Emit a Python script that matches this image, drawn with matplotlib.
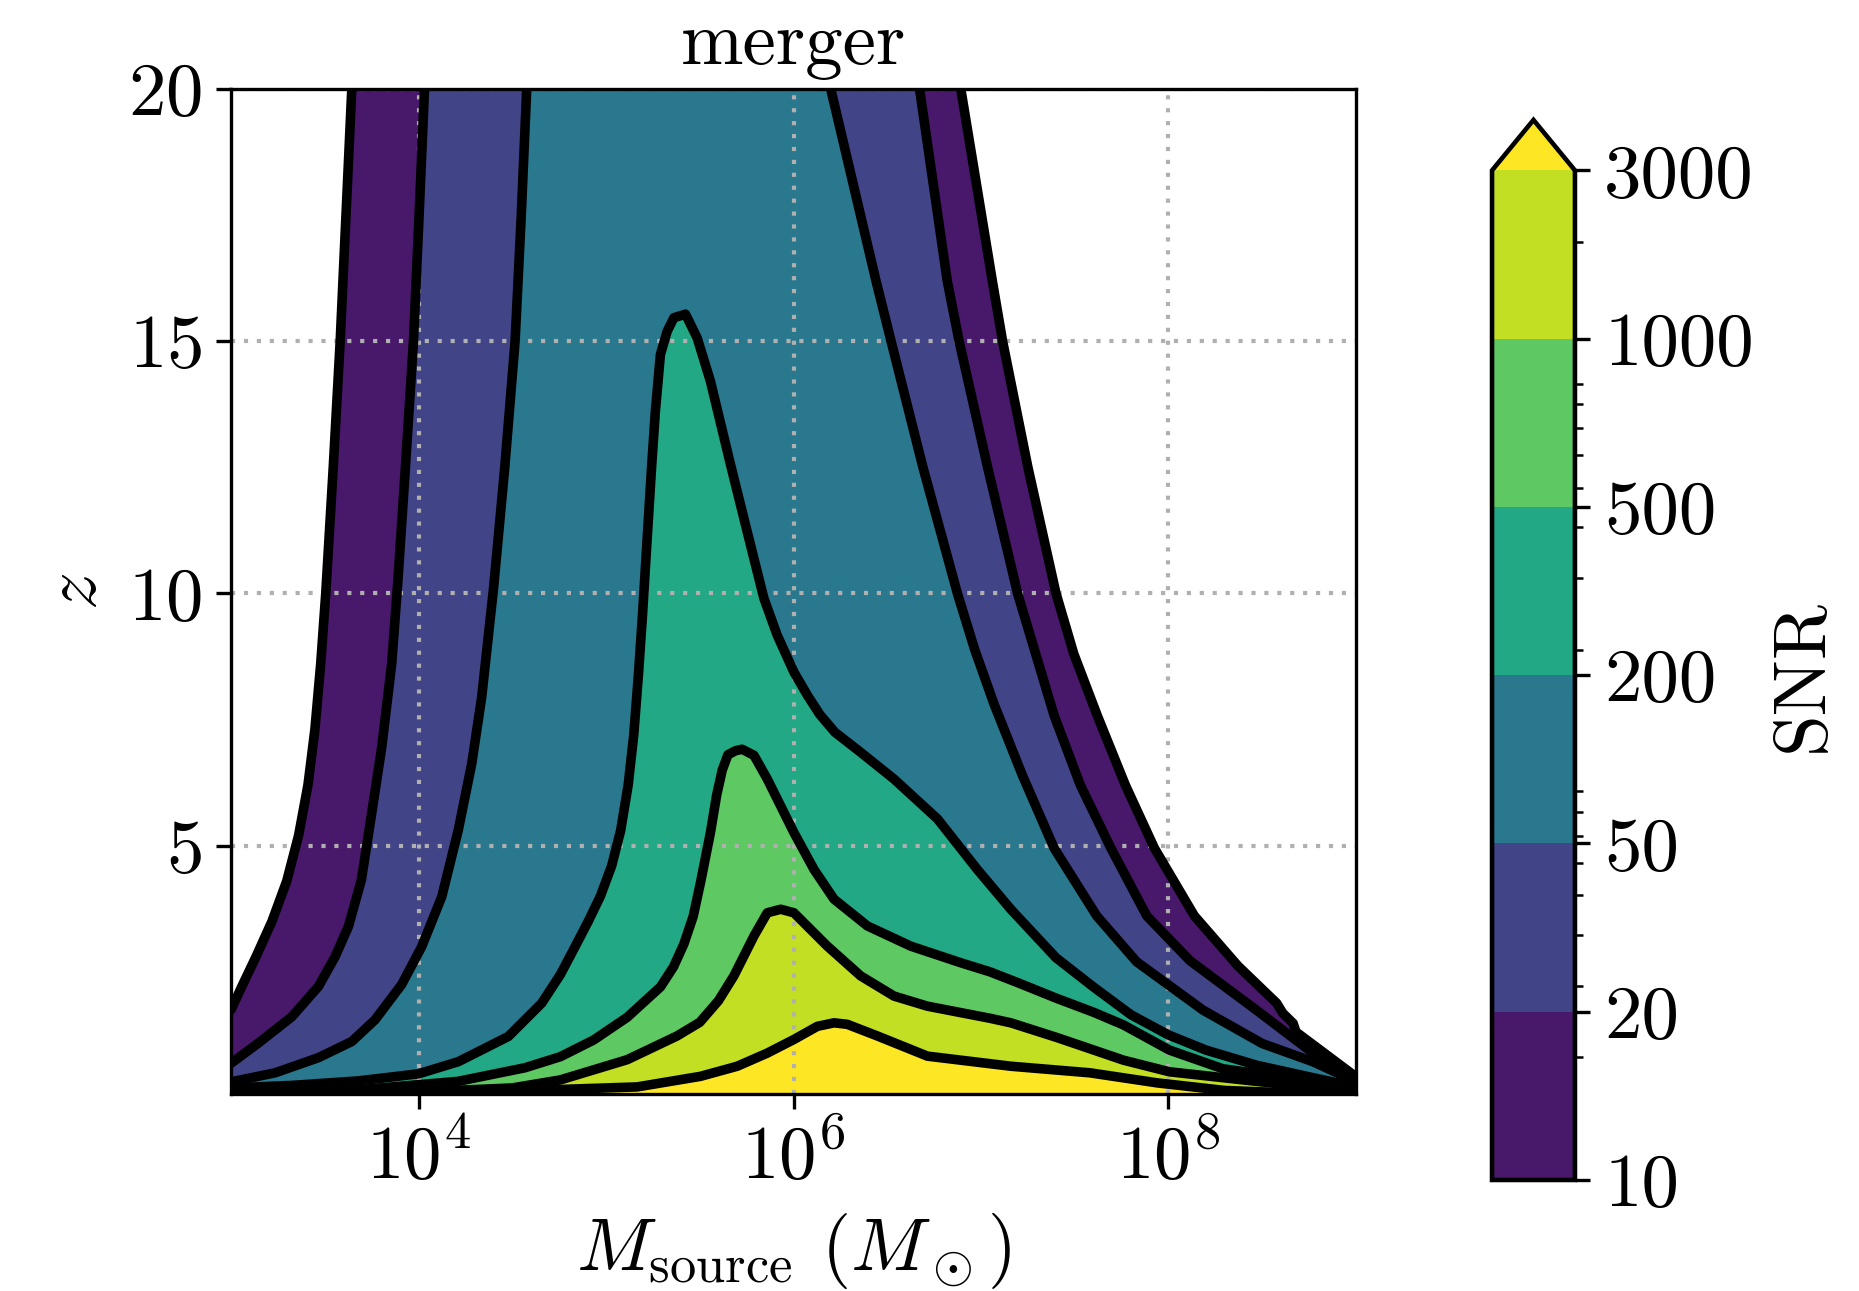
import numpy as np
import matplotlib
matplotlib.use("Agg")
import matplotlib.pyplot as plt
from matplotlib.colors import ListedColormap, BoundaryNorm
from matplotlib.cm import ScalarMappable
from matplotlib.ticker import FixedLocator, NullLocator

plt.rcParams.update({
    "font.family": "serif",
    "font.serif": ["cmr10"],
    "mathtext.fontset": "cm",
    "axes.unicode_minus": False,
    "axes.formatter.use_mathtext": True,
    "font.size": 18,
})

# SNR contour levels and their colours
snr_levels = [10, 20, 50, 200, 500, 1000, 3000]
snr_labels = ["10", "20", "50", "200", "500", "1000", "3000"]
band_colors = ["#48186a", "#414487", "#2a788e", "#22a884", "#5ec962", "#c2df23"]
over_color = "#fde725"

# Each SNR contour: log10(source mass / Msun) and redshift z along the line
logm_10 = [3.0, 3.056, 3.133, 3.218, 3.297, 3.36, 3.41, 3.447, 3.478, 3.505, 3.545, 3.582,
           3.613, 3.644,
           6.892, 7.06, 7.115, 7.25, 7.40, 7.495, 7.62, 7.77, 7.925, 8.138, 8.37, 8.577,
           8.61, 8.665, 8.68, 9.0]
z_10 = [1.75, 2.2, 2.8, 3.5, 4.3, 5.2, 6.2, 7.3, 8.6, 10.0, 12.5, 15.0,
        17.5, 20.0,
        20.0, 16.2, 15.0, 12.5, 10.0, 8.8, 7.58, 6.2, 4.95, 3.61, 2.62, 1.88,
        1.68, 1.48, 1.31, 0.42]

logm_20 = [3.0, 3.146, 3.324, 3.466, 3.555, 3.626, 3.695, 3.75, 3.804, 3.857, 3.89, 3.93,
           3.973, 4.003, 4.032,
           6.672, 6.82, 6.883, 7.035, 7.195, 7.39, 7.53, 7.693, 7.884, 8.115, 8.47, 8.75,
           8.85, 9.0]
z_20 = [0.69, 1.09, 1.61, 2.21, 2.80, 3.40, 4.32, 5.64, 6.96, 8.61, 10.26, 12.5,
        15.0, 17.5, 20.0,
        20.0, 16.19, 15.0, 12.5, 10.0, 7.58, 6.2, 4.95, 3.61, 2.72, 1.74, 0.95,
        0.72, 0.40]

logm_50 = [3.0, 3.235, 3.466, 3.644, 3.768, 3.91, 4.017, 4.124, 4.212, 4.284, 4.337, 4.40,
           4.46, 4.515, 4.548, 4.577,
           6.198, 6.44, 6.52, 6.69, 6.874, 6.965, 7.07, 7.22, 7.39, 7.617, 7.83, 8.185,
           8.5, 8.77, 8.91, 9.0]
z_50 = [0.32, 0.5, 0.8, 1.12, 1.55, 2.25, 3.0, 3.99, 5.31, 6.63, 7.95, 10.1,
        12.5, 15.0, 17.5, 20.0,
        20.0, 16.19, 15.0, 12.5, 10.0, 8.9, 7.8, 6.4, 4.95, 3.61, 2.7, 1.74,
        1.08, 0.72, 0.48, 0.36]

logm_200 = [3.0, 3.324, 3.68, 4.0, 4.212, 4.479, 4.657, 4.757, 4.835, 4.905, 4.97, 5.03,
            5.078, 5.118, 5.148, 5.173, 5.195, 5.218, 5.243, 5.263, 5.29, 5.326, 5.362,
            5.424, 5.486, 5.557, 5.664, 5.753, 5.842, 5.913, 6.002, 6.074, 6.14, 6.22,
            6.358, 6.536, 6.768, 6.98, 7.159, 7.40, 7.6, 7.8, 8.0, 8.2, 8.47, 8.75, 9.0]
z_200 = [0.2, 0.25, 0.34, 0.48, 0.72, 1.22, 1.88, 2.45, 3.0, 3.5, 4.0, 4.6,
         5.3, 6.2, 7.2, 8.4, 9.6, 11.0, 12.5, 13.6, 14.73, 15.19, 15.46,
         15.53, 15.06, 14.2, 12.55, 11.22, 9.9, 9.17, 8.44, 7.98, 7.6, 7.25,
         6.85, 6.32, 5.53, 4.53, 3.74, 2.78, 2.2, 1.65, 1.25, 0.95, 0.65, 0.42, 0.22]

logm_500 = [3.0, 3.7, 4.21, 4.568, 4.757, 4.934, 5.113, 5.29, 5.36, 5.415, 5.465, 5.504,
            5.557, 5.59, 5.62, 5.65, 5.69, 5.726, 5.789, 5.86, 6.002, 6.109, 6.216, 6.394,
            6.625, 6.892, 7.048, 7.2, 7.4, 7.6, 7.759, 8.005, 8.29, 8.65, 9.0]
z_500 = [0.12, 0.17, 0.33, 0.6, 0.82, 1.15, 1.6, 2.2, 2.6, 3.05, 3.6, 4.27,
         5.26, 6.0, 6.5, 6.8, 6.88, 6.91, 6.79, 6.32, 5.26, 4.53, 3.94, 3.41,
         3.01, 2.68, 2.5, 2.28, 1.98, 1.7, 1.45, 0.95, 0.58, 0.39, 0.18]

logm_1000 = [3.0, 4.0, 4.5, 4.757, 5.113, 5.379, 5.5, 5.6, 5.682, 5.789, 5.86, 5.932,
             6.002, 6.18, 6.358, 6.536, 6.714, 7.048, 7.159, 7.404, 7.76, 8.005, 8.47, 9.0]
z_1000 = [0.1, 0.12, 0.2, 0.36, 0.76, 1.23, 1.5, 1.93, 2.42, 3.21, 3.67, 3.74,
          3.67, 3.01, 2.42, 2.02, 1.82, 1.58, 1.49, 1.2, 0.75, 0.52, 0.33, 0.12]

logm_3000 = [3.0, 4.3, 4.757, 5.166, 5.504, 5.70, 5.86, 6.002, 6.127, 6.216, 6.287, 6.447,
             6.714, 7.159, 7.58, 7.94, 8.3, 9.0]
z_3000 = [0.05, 0.1, 0.17, 0.22, 0.43, 0.63, 0.89, 1.16, 1.42, 1.49, 1.46, 1.23,
          0.83, 0.63, 0.5, 0.3, 0.15, 0.05]

contours = [(logm_10, z_10), (logm_20, z_20), (logm_50, z_50), (logm_200, z_200),
            (logm_500, z_500), (logm_1000, z_1000), (logm_3000, z_3000)]
fill_colors = band_colors + [over_color]

z_top = 20.0
z_bottom = 0.08

fig = plt.figure(figsize=(1859 / 300, 1291 / 300), dpi=300)
ax = fig.add_axes([0.1243, 0.1526, 0.6051, 0.7788])
cax = fig.add_axes([0.8026, 0.086, 0.0446, 0.8211])

# filled bands: each level's region painted over the previous one
for (lm, z), color in zip(contours, fill_colors):
    mass = 10.0 ** np.asarray(lm)
    ax.fill_between(mass, 0.0, np.asarray(z), color=color, lw=0, zorder=1)


def line_runs(z, top):
    """Split a contour into pieces, leaving out stretches that run along the top edge."""
    runs, cur = [], [0]
    for i in range(1, len(z)):
        if z[i] >= top and z[i - 1] >= top:
            runs.append(cur)
            cur = [i]
        else:
            cur.append(i)
    runs.append(cur)
    return [r for r in runs if len(r) > 1]


for lm, z in contours:
    mass = 10.0 ** np.asarray(lm)
    z = np.asarray(z)
    for run in line_runs(z, z_top):
        ax.plot(mass[run], z[run], color="black", lw=2.3, zorder=2,
                solid_joinstyle="round", solid_capstyle="round")

ax.set_xscale("log")
ax.set_xlim(1e3, 1e9)
ax.set_ylim(z_bottom, z_top)
ax.set_xticks([1e4, 1e6, 1e8])
ax.xaxis.set_minor_locator(NullLocator())
ax.set_yticks([5, 10, 15, 20])
ax.set_axisbelow("line")
ax.grid(True, which="major", color="#b0b0b0", lw=1.0, linestyle=(0, (1, 2.1)))

ax.set_title("merger", fontsize=18)
ax.set_xlabel(r"$M_{\mathrm{source}}$ $(M_\odot)$", fontsize=18)
ax.set_ylabel(r"$z$", fontsize=18)
ax.tick_params(labelsize=18)

# colour bar with equal-height bands and an upper extension
cmap = ListedColormap(band_colors).with_extremes(over=over_color)
norm = BoundaryNorm(snr_levels, cmap.N)
sm = ScalarMappable(norm=norm, cmap=cmap)
cbar = fig.colorbar(sm, cax=cax, extend="max")
cbar.set_ticks(snr_levels, labels=snr_labels)
cbar.ax.tick_params(labelsize=18)
cbar.outline.set_linewidth(1.1)
cbar.set_label("SNR", fontsize=18)

# minor ticks follow a logarithmic scale over the whole bar length
minor_vals = np.array([20, 30, 40, 50, 60, 70, 80, 90,
                       200, 300, 400, 500, 600, 700, 800, 900, 2000])
frac = np.log10(minor_vals / snr_levels[0]) / np.log10(snr_levels[-1] / snr_levels[0])
minor_pos = np.interp(frac * (len(snr_levels) - 1), np.arange(len(snr_levels)), snr_levels)
cbar.minorlocator = FixedLocator(minor_pos)

fig.savefig("out.png", dpi=300)
